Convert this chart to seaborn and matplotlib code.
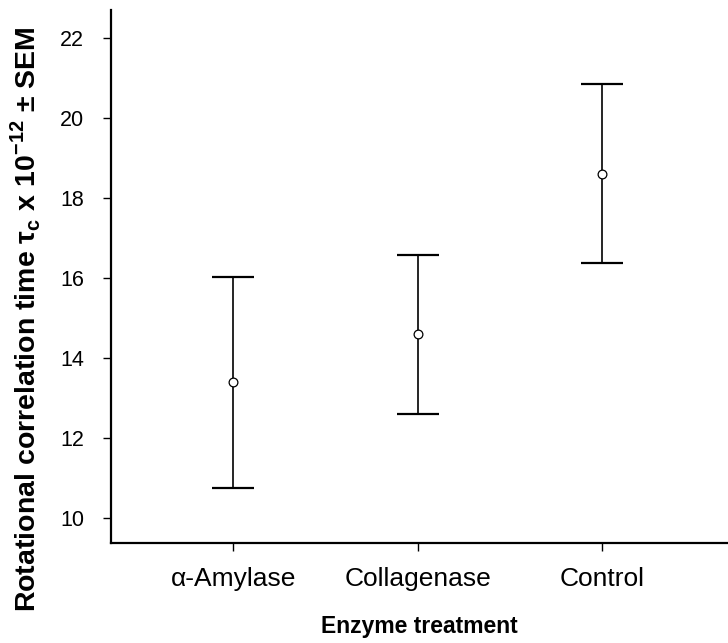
import matplotlib
matplotlib.use("Agg")
import matplotlib.pyplot as plt
import seaborn as sns
import pandas as pd

categories = ["α-Amylase", "Collagenase", "Control"]
means = [13.385, 14.58, 18.60]
sems = [2.635, 1.99, 2.24]
yticks = [10, 12, 14, 16, 18, 20, 22]

sns.set_style("ticks")
plt.rcParams["font.family"] = ["Liberation Sans", "DejaVu Sans"]
plt.rcParams["mathtext.fontset"] = "custom"
plt.rcParams["mathtext.rm"] = "Liberation Sans"
plt.rcParams["mathtext.bf"] = "Liberation Sans:bold"
for k in ["axes.edgecolor", "xtick.color", "ytick.color", "text.color", "axes.labelcolor"]:
    plt.rcParams[k] = "black"

df = pd.DataFrame({"treatment": categories, "tau": means})

fig = plt.figure(figsize=(7.28, 6.43), dpi=100)
ax = fig.add_axes([0.1518, 0.155, 0.8482, 0.8294])

sns.pointplot(data=df, x="treatment", y="tau", linestyle="none", marker="o",
              markersize=6.3, markerfacecolor="white", markeredgecolor="black",
              markeredgewidth=0.9, color="black", errorbar=None, ax=ax, zorder=3)
ax.errorbar(range(len(categories)), means, yerr=sems, fmt="none", ecolor="black",
            elinewidth=1.2, capsize=15, capthick=1.6, zorder=2)

ax.set_xlim(-0.665, 2.68)
ax.set_ylim(9.36, 22.69)
ax.set_yticks(yticks)
ax.set_yticklabels([str(t) for t in yticks])
ax.tick_params(axis="y", labelsize=15.5, length=6, width=1, pad=13)
ax.tick_params(axis="x", labelsize=19, length=6, width=1, pad=11)
for s in ["left", "bottom"]:
    ax.spines[s].set_linewidth(1.6)
sns.despine(ax=ax)

ax.set_xlabel("Enzyme treatment", fontsize=16.5, fontweight="bold", labelpad=17)
ax.set_ylabel(r"Rotational correlation time τ$_\mathbf{c}$ x 10$^{\mathbf{-12}}$ ± SEM",
              fontsize=20.5, fontweight="bold")
ax.yaxis.set_label_coords(-0.11, 0.42)

fig.savefig("out.png", dpi=100)
